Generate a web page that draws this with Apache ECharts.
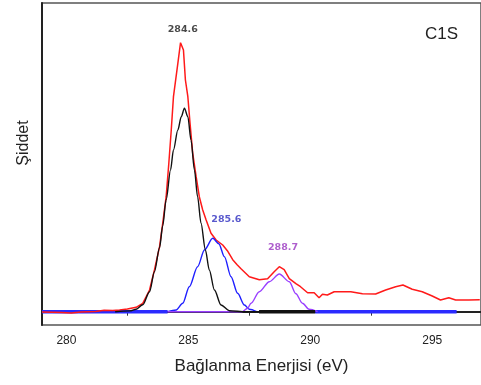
<!DOCTYPE html>
<html>
<head>
<meta charset="utf-8">
<script src="https://cdn.jsdelivr.net/npm/echarts@6/dist/echarts.min.js"></script>
<style>
  html, body { margin: 0; padding: 0; background: #fff; }
  #chart { width: 481px; height: 385px; }
</style>
</head>
<body>
<div id="chart"></div>
<script>
// x ticks (eV)
const xLabelValues = [280, 285, 290, 295];
const xTickValues = [282.5, 287.5, 292.5];

// measured C1s spectrum [eV, intensity]
const measured = [
  [279.0, -0.3], [279.8, -0.8], [280.2, -1.3], [280.6, -0.4], [281.2, 0.2],
  [281.55, 1.5], [281.9, 1.2], [282.18, 1.7], [282.5, 2.6], [282.86, 4.4],
  [283.13, 8.4], [283.41, 21.7], [283.61, 41.7], [283.82, 65], [283.95, 88.4],
  [284.09, 115], [284.2, 148.4], [284.3, 181.7], [284.39, 215], [284.57, 248.4],
  [284.68, 269], [284.8, 261.7], [284.88, 231.7], [284.98, 215], [285.07, 188.4],
  [285.18, 158.4], [285.32, 135], [285.45, 115], [285.59, 101.7], [285.73, 91.7],
  [285.93, 78.4], [286.14, 71.7], [286.41, 66.7], [286.6, 61], [286.82, 52],
  [287.0, 47], [287.16, 43], [287.5, 35], [287.91, 32], [288.25, 33],
  [288.52, 40], [288.73, 45], [288.93, 42], [289.14, 33], [289.41, 28],
  [289.6, 25], [289.89, 19], [290.16, 19], [290.36, 14], [290.5, 17.4],
  [290.7, 16.7], [290.98, 20], [291.32, 20], [291.66, 20], [292.14, 18],
  [292.68, 17.7], [293.09, 21.7], [293.5, 25], [293.8, 26.7], [294.18, 22.4],
  [294.59, 20], [295.0, 15.7], [295.34, 11.7], [295.68, 14], [295.96, 11.7],
  [296.5, 11.7], [296.95, 12]
];

// fitted components
const peakC = [
  [282.0, 0], [282.6, 0.8], [282.86, 2.5], [283.13, 7], [283.41, 20],
  [283.61, 40], [283.82, 64], [283.95, 86], [284.09, 112], [284.27, 141.7],
  [284.39, 161.7], [284.57, 181.7], [284.71, 195], [284.84, 203.4], [284.98, 195],
  [285.11, 171.7], [285.25, 141.7], [285.38, 115], [285.52, 88.4], [285.7, 61.7],
  [285.86, 41.7], [286.07, 21.7], [286.34, 6.7], [286.68, 1], [287.36, 0], [287.9, 0]
];
const peakB = [
  [284.15, 0], [284.5, 1.7], [284.77, 8.4], [285.04, 25], [285.38, 45],
  [285.66, 61.7], [286.0, 73.4], [286.25, 68], [286.48, 55], [286.75, 35],
  [287.02, 18.4], [287.3, 6.7], [287.5, 2.4], [287.8, 0]
];
const peakA = [
  [284.15, 0], [287.2, 0], [287.43, 3.4], [287.57, 8.4], [287.91, 20],
  [288.32, 30], [288.73, 37.7], [289.14, 30], [289.41, 18], [289.68, 8.4],
  [289.95, 2.4], [290.3, 0]
];
const baseLeft = [[279.0, 0], [284.15, 0]];
const baseMid = [[287.9, 0], [290.2, 0]];
const baseRight = [[290.2, 0], [296.0, 0]];

// peak annotations
const peakNames = ['284.6', '285.6', '288.7'];
const peakAnchors = [[284.77, 282.4], [286.56, 92.4], [288.88, 63.7]];
const peakColors = ['#1a1a1a', '#3030c0', '#9a36c0'];

const chart = echarts.init(document.getElementById('chart'));

function lineSeries(data, color, width, z, smooth) {
  return {
    type: 'line', data: data, symbol: 'none', z: z,
    smooth: smooth || false, smoothMonotone: 'x',
    lineStyle: { color: color, width: width },
    silent: true, animation: false
  };
}

const option = {
  animation: false,
  backgroundColor: '#fff',
  title: {
    text: 'C1S', left: 420, top: 21,
    textStyle: { fontFamily: 'Liberation Sans', fontSize: 17, fontWeight: 'normal', color: '#222' }
  },
  grid: {
    left: 42, top: 3, width: 440, height: 322,
    show: true, borderColor: '#555', borderWidth: 1.5
  },
  xAxis: {
    type: 'value', min: 279, max: 297,
    name: 'Bağlanma Enerjisi (eV)', nameLocation: 'middle', nameGap: 33,
    nameTextStyle: { fontFamily: 'Liberation Sans', fontSize: 17, color: '#222' },
    axisLine: { show: true, lineStyle: { color: '#222', width: 2 } },
    axisTick: { show: true, customValues: xTickValues, length: 4, lineStyle: { color: '#333' } },
    axisLabel: {
      customValues: xLabelValues, margin: 10,
      fontFamily: 'Liberation Sans', fontSize: 12, color: '#222'
    },
    splitLine: { show: false }
  },
  yAxis: {
    type: 'value', min: -13.3, max: 308.7,
    axisLine: { show: true, lineStyle: { color: '#222', width: 2 } },
    axisTick: { show: false },
    axisLabel: { show: false },
    splitLine: { show: false }
  },
  graphic: [{
    type: 'text', x: 24, y: 143, rotation: Math.PI / 2,
    style: {
      text: 'Şiddet', fontFamily: 'Liberation Sans', fontSize: 16,
      fill: '#222', align: 'center', verticalAlign: 'middle'
    }
  }],
  series: [
    lineSeries(baseLeft, '#2a2aff', 3.5, 2),
    lineSeries(baseRight, '#2a2aff', 3.5, 2),
    lineSeries(measured, '#ff1a1a', 1.5, 3),
    lineSeries(peakB, '#1f1fff', 1.4, 4, 0.3),
    lineSeries(peakA, '#9a40ff', 1.4, 4, 0.3),
    lineSeries(peakC, '#111111', 1.4, 5, 0.3),
    lineSeries(baseMid, '#111111', 3.5, 5),
    {
      type: 'scatter', symbolSize: 0, silent: true, z: 6,
      data: peakNames.map((n, i) => ({ name: n, value: peakAnchors[i], label: { color: peakColors[i] } })),
      label: {
        show: true, position: 'inside', formatter: p => p.name,
        fontFamily: 'DejaVu Sans', fontWeight: 'bold', fontSize: 9.5
      }
    }
  ]
};

chart.setOption(option);
</script>
</body>
</html>
